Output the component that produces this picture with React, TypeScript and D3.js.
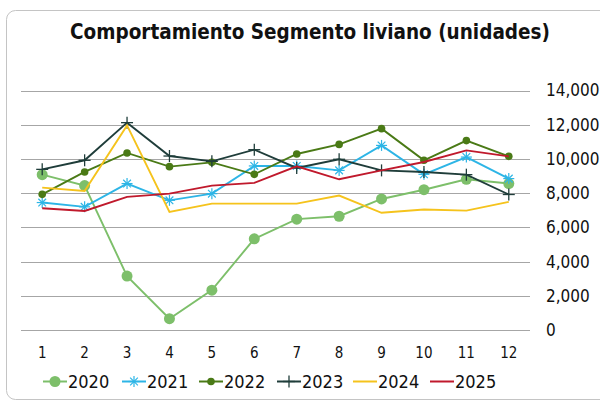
import React from 'react';
import * as d3 from 'd3';

const months = ['1', '2', '3', '4', '5', '6', '7', '8', '9', '10', '11', '12'];
const yTicks = [0, 2000, 4000, 6000, 8000, 10000, 12000, 14000];

const s2020 = [9080, 8440, 3150, 660, 2330, 5330, 6480, 6650, 7660, 8200, 8810, 8560];
const s2021 = [7450, 7200, 8560, 7580, 7970, 9590, 9590, 9330, 10790, 9100, 10110, 8850];
const s2022 = [7930, 9240, 10350, 9550, 9800, 9100, 10290, 10850, 11770, 9920, 11070, 10150];
const s2023 = [9390, 9920, 12120, 10170, 9860, 10540, 9470, 9980, 9330, 9240, 9080, 7920];
const s2024 = [8320, 8130, 11960, 6900, 7390, 7390, 7390, 7860, 6850, 7040, 6980, 7490];
const s2025 = [7120, 6960, 7780, 7970, 8440, 8600, 9570, 8810, 9330, 9820, 10500, 10150];

const series = [
  { name: '2020', values: s2020, color: '#7dbf6a', marker: 'bigdot' },
  { name: '2021', values: s2021, color: '#2db5e6', marker: 'star' },
  { name: '2022', values: s2022, color: '#4a7a16', marker: 'dot' },
  { name: '2023', values: s2023, color: '#1f3d3a', marker: 'plus' },
  { name: '2024', values: s2024, color: '#f5c31c', marker: 'none' },
  { name: '2025', values: s2025, color: '#c0192c', marker: 'none' },
];

const FONT = '"DejaVu Sans Condensed", "DejaVu Sans", sans-serif';

function Marker({ type, x, y, color }: { type: string; x: number; y: number; color: string }) {
  if (type === 'bigdot') return <circle cx={x} cy={y} r={5.5} fill={color} />;
  if (type === 'dot') return <circle cx={x} cy={y} r={3.8} fill={color} />;
  if (type === 'plus') {
    return (
      <g stroke={color} strokeWidth={1.3}>
        <line x1={x - 6} x2={x + 6} y1={y} y2={y} />
        <line x1={x} x2={x} y1={y - 6} y2={y + 6} />
      </g>
    );
  }
  if (type === 'star') {
    const r = 5.5;
    return (
      <g stroke={color} strokeWidth={1.2}>
        <line x1={x - r} x2={x + r} y1={y} y2={y} />
        <line x1={x} x2={x} y1={y - r} y2={y + r} />
        <line x1={x - r * 0.7} x2={x + r * 0.7} y1={y - r * 0.7} y2={y + r * 0.7} />
        <line x1={x - r * 0.7} x2={x + r * 0.7} y1={y + r * 0.7} y2={y - r * 0.7} />
      </g>
    );
  }
  return null;
}

export default function App() {
  const x = d3.scaleBand<string>().domain(months).range([21, 530]);
  const cx = (m: string) => (x(m) as number) + x.bandwidth() / 2;
  const y = d3.scaleLinear().domain([0, 14000]).range([330, 90.5]);
  const fmt = d3.format(',');

  const line = d3
    .line<number>()
    .x((_, i) => cx(months[i]))
    .y((d) => y(d));

  const legendX = [55, 134, 211, 289, 365, 442];

  return (
    <svg
      width={600}
      height={403}
      style={{ position: 'absolute', left: 0, top: 0, background: '#fff' }}
      fontFamily={FONT}
    >
      <rect x={6.5} y={10.5} width={620} height={389} rx={9} fill="#fff" stroke="#c4c4c4" />
      <text x={310} y={39} textAnchor="middle" fontSize={20.5} fontWeight="bold" fill="#111">
        Comportamiento Segmento liviano (unidades)
      </text>

      {yTicks.map((t) => (
        <g key={t}>
          <line x1={21} x2={530} y1={Math.round(y(t)) + 0.5} y2={Math.round(y(t)) + 0.5} stroke="#a6a6a6" strokeWidth={1} />
          <text x={546} y={y(t)} dy="0.35em" fontSize={17} fill="#111">
            {fmt(t)}
          </text>
        </g>
      ))}

      {months.map((m) => (
        <text key={m} x={cx(m)} y={358} textAnchor="middle" fontSize={15} fill="#111">
          {m}
        </text>
      ))}

      {series.map((s) => (
        <g key={s.name}>
          <path d={line(s.values) as string} fill="none" stroke={s.color} strokeWidth={1.9} />
          {s.values.map((v, i) => (
            <Marker key={i} type={s.marker} x={cx(months[i])} y={y(v)} color={s.color} />
          ))}
        </g>
      ))}

      {series.map((s, i) => (
        <g key={s.name}>
          <line x1={legendX[i] - 12} x2={legendX[i] + 12} y1={381.5} y2={381.5} stroke={s.color} strokeWidth={2} />
          <Marker type={s.marker} x={legendX[i]} y={381.5} color={s.color} />
          <text x={legendX[i] + 13} y={381.5} dy="0.36em" fontSize={18} fill="#111">
            {s.name}
          </text>
        </g>
      ))}
    </svg>
  );
}
